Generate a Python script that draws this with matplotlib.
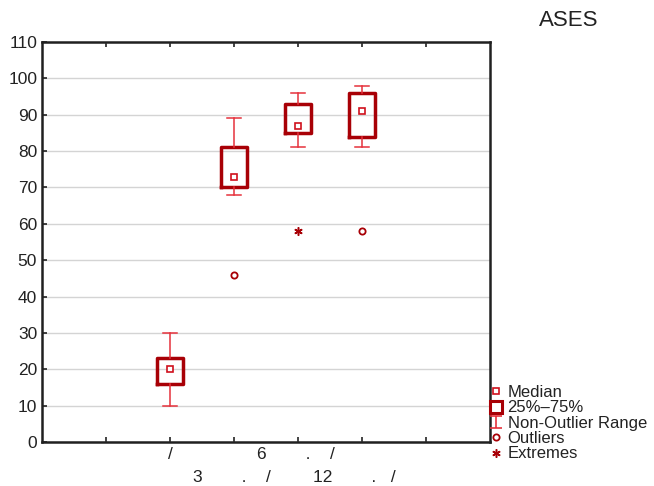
import matplotlib
matplotlib.use("Agg")
import matplotlib.pyplot as plt
from matplotlib.lines import Line2D
from matplotlib.path import Path

plt.rcParams['font.family'] = ['Liberation Sans', 'DejaVu Sans']

# ---- data ----
positions = [2, 3, 4, 5]
medians = [20, 73, 87, 91]
q1 = [16, 70, 85, 84]
q3 = [23, 81, 93, 96]
whis_lo = [10, 68, 81, 81]
whis_hi = [30, 89, 96, 98]
outlier_x = [3, 5]
outlier_y = [46, 58]
extreme_x = [4]
extreme_y = [58]
tick_pos = [1, 2, 3, 4, 5, 6]
tick_labels = ["", "/", "3        .    / ", "6        .    / ", "12        .   /   ", ""]
title = "ASES"
legend_labels = ["Median", "25%\u201375%", "Non-Outlier Range", "Outliers", "Extremes"]

box_col = "#A80006"
whisk_col = "#E6323C"
med_col = "#D0101C"
text_col = "#222222"

fig = plt.figure(figsize=(6.54, 4.86), dpi=100)
ax = fig.add_axes([42/654, 44/486, 448/654, 400/486])

stats = []
for m, a, b, lo, hi in zip(medians, q1, q3, whis_lo, whis_hi):
    stats.append(dict(med=m, q1=a, q3=b, whislo=lo, whishi=hi, fliers=[]))

ax.bxp(stats, positions=positions, widths=0.42, capwidths=0.22, showfliers=False,
       boxprops=dict(color=box_col, linewidth=2.5),
       whiskerprops=dict(color=whisk_col, linewidth=1.1),
       capprops=dict(color=whisk_col, linewidth=1.1),
       medianprops=dict(linewidth=0), manage_ticks=False, zorder=3)

ax.plot(positions, medians, linestyle='none', marker='s', markersize=5,
        markerfacecolor='white', markeredgecolor=med_col, markeredgewidth=1.2, zorder=4)
ax.plot(outlier_x, outlier_y, linestyle='none', marker='o', markersize=4.5,
        markerfacecolor='white', markeredgecolor=box_col, markeredgewidth=1.3, zorder=4)
ax.plot(extreme_x, extreme_y, linestyle='none', marker=(6, 2, 0), markersize=6,
        markeredgecolor=box_col, markeredgewidth=1.1, zorder=4)

ax.set_xlim(0, 7)
ax.set_ylim(0, 110)
ax.set_yticks(range(0, 111, 10))
ax.set_xticks(tick_pos)
ax.set_xticklabels(tick_labels)
ax.yaxis.grid(True, color="#d4d4d4", linewidth=1.0)
ax.set_axisbelow(True)

ax.tick_params(axis='x', direction='in', length=3.5, width=1.2, top=True, bottom=True,
               labelsize=12.5, pad=3.5, colors=text_col)
ax.tick_params(axis='y', direction='in', length=3.5, width=1.2, left=True, right=False,
               labelsize=12.5, pad=3.5, colors=text_col)
for i, t in enumerate(ax.xaxis.get_major_ticks()):
    if i in (2, 4):
        t.set_pad(20)
for s in ax.spines.values():
    s.set_linewidth(1.8)
    s.set_color("#202020")

fig.text(569/654, 1 - 21/486, title, ha='center', va='center', fontsize=16, color=text_col)

ibeam = Path([(-0.9, 1), (0.9, 1), (0, 1), (0, -1), (-0.9, -1), (0.9, -1)],
             [Path.MOVETO, Path.LINETO, Path.MOVETO, Path.LINETO, Path.MOVETO, Path.LINETO])
handles = [
    Line2D([], [], linestyle='none', marker='s', markersize=5, markerfacecolor='white',
           markeredgecolor=med_col, markeredgewidth=1.2),
    Line2D([], [], linestyle='none', marker='s', markersize=8.5, markerfacecolor='white',
           markeredgecolor=box_col, markeredgewidth=2.2),
    Line2D([], [], linestyle='none', marker=ibeam, markersize=9, markerfacecolor='none',
           markeredgecolor=whisk_col, markeredgewidth=1.2),
    Line2D([], [], linestyle='none', marker='o', markersize=4.5, markerfacecolor='white',
           markeredgecolor=box_col, markeredgewidth=1.3),
    Line2D([], [], linestyle='none', marker=(6, 2, 0), markersize=6,
           markeredgecolor=box_col, markeredgewidth=1.1),
]
leg = fig.legend(handles, legend_labels, loc='upper left',
                 bbox_to_anchor=(490/654, 1 - 385/486), frameon=False,
                 fontsize=12, handlelength=0.7, handletextpad=0.35,
                 borderpad=0, borderaxespad=0, labelspacing=0.02, labelcolor=text_col)

fig.savefig("out.png", dpi=100)
